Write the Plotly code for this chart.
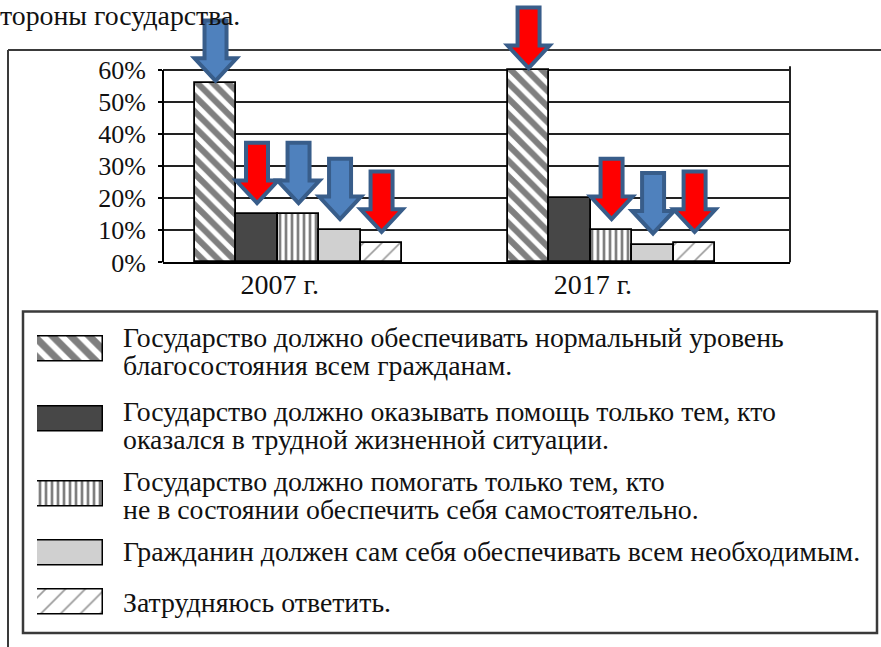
import plotly.graph_objects as go

W, H = 881, 647          # reference picture size (all pixel positions below refer to it)
H_PAGE = 663             # figure height; the page photo is fitted back to 647 px high
SY = H_PAGE / H          # vertical pixel factor for pixel-sized decorations

# ---------------- data ----------------
categories = ["2007 г.", "2017 г."]
series_labels = [
    ["Государство должно обеспечивать нормальный уровень", "благосостояния всем гражданам."],
    ["Государство должно оказывать помощь только тем, кто", "оказался в трудной жизненной ситуации."],
    ["Государство должно помогать только тем, кто", "не в состоянии обеспечить себя самостоятельно."],
    ["Гражданин должен сам себя обеспечивать всем необходимым."],
    ["Затрудняюсь ответить."],
]
s_normal_level = [56, 60]
s_hard_situation = [15, 20]
s_cannot_self = [15, 10]
s_self_reliant = [10, 5.5]
s_hard_to_say = [6, 6]
series_values = [s_normal_level, s_hard_situation, s_cannot_self, s_self_reliant, s_hard_to_say]

y_ticks = [0, 10, 20, 30, 40, 50, 60]
y_tick_labels = ["0%", "10%", "20%", "30%", "40%", "50%", "60%"]

# arrow marks above bars (per category, per series): "blue", "red" or None
arrow_marks = [
    ["blue", "red", "blue", "blue", "red"],
    ["red", None, "red", "blue", "red"],
]
header_text = "тороны государства."

# ---------------- styles ----------------
FONT = "Liberation Serif"
TXT = "#111111"
LEG_FS = 27.8          # glyph size of legend text
LEG_LINE = 27          # baseline-to-baseline distance inside one legend item
bar_styles = [
    dict(color="white", pattern=dict(shape="\\", fgcolor="black", bgcolor="white", size=11, solidity=0.55)),
    dict(color="#474747"),
    dict(color="white", pattern=dict(shape="|", fgcolor="black", bgcolor="white", size=6, solidity=0.45)),
    dict(color="#d0d0d0"),
    dict(color="white", pattern=dict(shape="/", fgcolor="#333333", bgcolor="white", size=13, solidity=0.12)),
]
swatch_pattern_size = [13, None, 6, None, 14]
arrow_fill = {"blue": "#4f81bd", "red": "#ff0000"}
arrow_line = "#385d8a"


def px(x):
    return x / W


def py(y):
    return 1 - y / H


# plot-area geometry (reference pixels)
X_LEFT, X_RIGHT = 163, 790
Y_ZERO, Y_SIXTY, Y_TOP = 262, 70, 2
Y_MAX = 60 * (Y_ZERO - Y_TOP) / (Y_ZERO - Y_SIXTY)

BAR_W = 0.1326
n_series = len(series_values)

fig = go.Figure()

# main bars
for k, vals in enumerate(series_values):
    xs = [i + (k - (n_series - 1) / 2) * BAR_W for i in range(len(categories))]
    fig.add_trace(go.Bar(
        x=xs, y=vals, width=BAR_W,
        marker=dict(line=dict(color="black", width=1.8), **bar_styles[k]),
        showlegend=False, hoverinfo="skip",
        xaxis="x", yaxis="y",
    ))

# legend swatches (hidden axes in legend area)
row_tops = [336, 406, 481, 540, 589]
row_h = 25
for k in range(n_series):
    st = dict(bar_styles[k])
    if "pattern" in st and swatch_pattern_size[k]:
        st["pattern"] = dict(st["pattern"], size=swatch_pattern_size[k])
    fig.add_trace(go.Bar(
        x=[0], y=[row_h], base=[row_tops[k]], width=[1.0],
        marker=dict(line=dict(color="black", width=1.5), **st),
        showlegend=False, hoverinfo="skip",
        xaxis="x2", yaxis="y2",
    ))

# legend texts (one annotation per item; line spacing = 1.3 * base font size)
row_text_y = [337, 411, 481, 551, 602]   # centre of first line of each item
annotations = []
base_fs = LEG_LINE * SY / 1.3
for k, lines in enumerate(series_labels):
    txt = "<br>".join(f"<span style='font-size:{LEG_FS}px'>{ln}</span>" for ln in lines)
    yc = row_text_y[k] + (len(lines) - 1) * LEG_LINE / 2
    annotations.append(dict(
        x=px(121), y=py(yc), xref="paper", yref="paper",
        xanchor="left", yanchor="middle", align="left", text=txt, showarrow=False,
        font=dict(family=FONT, size=base_fs if len(lines) > 1 else LEG_FS, color=TXT),
    ))
annotations.append(dict(
    x=px(-2), y=py(15), xref="paper", yref="paper", xanchor="left", yanchor="middle",
    text=header_text, showarrow=False, font=dict(family=FONT, size=LEG_FS, color=TXT),
))


# arrows (pixel-sized, anchored at the top of each bar)
def arrow_path(gap, hw=21, sw=11, hh=22, L=59):
    pts = [(0, gap), (hw, gap + hh), (sw, gap + hh), (sw, gap + L),
           (-sw, gap + L), (-sw, gap + hh), (-hw, gap + hh)]
    return "M" + " L".join(f"{x},{y * SY:.1f}" for x, y in pts) + " Z"


shapes = []
# left axis line (0..60) and right border of the plot area
shapes += [
    dict(type="line", xref="x domain", yref="y", x0=0, x1=0, y0=0, y1=60,
         line=dict(color="black", width=2), layer="above"),
    dict(type="line", xref="x domain", yref="y", x0=1, x1=1, y0=0, y1=61.2,
         line=dict(color="#222222", width=2), layer="below"),
]
for i, marks in enumerate(arrow_marks):
    for k, m in enumerate(marks):
        if m is None:
            continue
        xc = i + (k - (n_series - 1) / 2) * BAR_W
        gap = 2 if k == 0 else 11
        shapes.append(dict(
            type="path", xref="x", yref="y", xsizemode="pixel", ysizemode="pixel",
            xanchor=xc, yanchor=series_values[k][i], path=arrow_path(gap),
            fillcolor=arrow_fill[m], line=dict(color=arrow_line, width=4), layer="above",
        ))

# outer frame and legend box (kept inside the paper)
frame_col = "#3a3a3a"
shapes += [
    dict(type="line", xref="paper", yref="paper", x0=px(8), x1=1, y0=py(50), y1=py(50),
         line=dict(color=frame_col, width=2), layer="below"),
    dict(type="line", xref="paper", yref="paper", x0=px(8), x1=px(8), y0=py(50), y1=0,
         line=dict(color=frame_col, width=2), layer="below"),
    dict(type="rect", xref="paper", yref="paper", x0=px(23), x1=px(877), y0=py(311), y1=py(632),
         line=dict(color=frame_col, width=2.5), layer="below"),
]

fig.update_layout(
    width=W, height=H_PAGE,
    margin=dict(l=0, r=0, t=0, b=0),
    paper_bgcolor="white", plot_bgcolor="rgba(0,0,0,0)",
    barmode="overlay", bargap=0,
    showlegend=False,
    font=dict(family=FONT, size=25, color=TXT),
    xaxis=dict(
        domain=[px(X_LEFT), px(X_RIGHT)], range=[-0.433, 1.570],
        tickmode="array", tickvals=[i - 0.06 for i in range(len(categories))], ticktext=categories,
        showline=True, linecolor="black", linewidth=2, ticks="", showgrid=False, zeroline=False,
        tickfont=dict(family=FONT, size=28, color=TXT), fixedrange=True,
        ticklabelstandoff=-4,
    ),
    yaxis=dict(
        domain=[py(Y_ZERO), py(Y_TOP)], range=[0, Y_MAX],
        tickmode="array", tickvals=y_ticks, ticktext=y_tick_labels,
        showline=False,
        ticks="outside", ticklen=4, tickwidth=2, tickcolor="black",
        showgrid=True, gridcolor="#222222", gridwidth=1.6, zeroline=False,
        tickfont=dict(family=FONT, size=26, color=TXT), fixedrange=True,
        ticklabelstandoff=7,
    ),
    xaxis2=dict(domain=[px(37), px(103)], range=[-0.5, 0.5], visible=False, anchor="y2", fixedrange=True),
    yaxis2=dict(domain=[py(640), py(320)], range=[640, 320], visible=False, anchor="x2", fixedrange=True),
    shapes=shapes,
    annotations=annotations,
)

# page tidy-up: no body margin and no stray whitespace line boxes
page_fix = (
    "var de=document.documentElement, b=document.body;"
    "de.style.margin='0';de.style.padding='0';"
    "b.style.margin='0';b.style.padding='0';"
    "b.style.fontSize='0px';b.style.lineHeight='0px';"
    "de.style.overflow='hidden';b.style.overflow='hidden';"
)
fig.write_html("out.html", post_script=page_fix, config={"displayModeBar": False})
